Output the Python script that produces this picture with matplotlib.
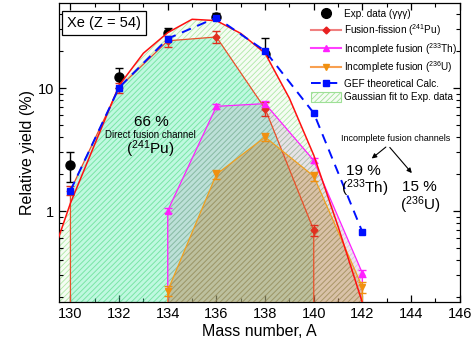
import matplotlib
matplotlib.use("Agg")
import matplotlib.pyplot as plt
from matplotlib.lines import Line2D
from matplotlib.patches import Patch
from matplotlib.ticker import MultipleLocator, LogLocator, NullFormatter, FixedLocator, FixedFormatter

plt.rcParams['font.family'] = ['Liberation Sans', 'DejaVu Sans']
plt.rcParams['mathtext.default'] = 'regular'
plt.rcParams['hatch.linewidth'] = 0.6

# experimental yields (gamma-gamma-gamma)
exp_mass = [130, 132, 134, 136, 138, 140]
exp_y = [2.38, 12.3, 28.0, 37.5, 18.9, 1.37]
exp_err = [0.67, 2.3, 3.0, 3.5, 6.5, 0.67]

# fusion-fission (241Pu)
ff_mass = [130, 132, 134, 136, 138, 140]
ff_y = [1.47, 10.1, 24.2, 26.0, 6.8, 0.70]
ff_err = [0.12, 0.9, 2.5, 2.9, 0.9, 0.07]

# incomplete fusion (233Th)
th_mass = [134, 136, 138, 140, 142]
th_y = [1.01, 7.1, 7.47, 2.58, 0.313]
th_err = [0.05, 0.35, 0.45, 0.12, 0.02]

# incomplete fusion (236U)
u_mass = [134, 136, 138, 140, 142]
u_y = [0.226, 1.99, 4.0, 1.92, 0.241]
u_err = [0.02, 0.15, 0.3, 0.15, 0.025]

# GEF calculation
gef_mass = [130, 132, 134, 136, 138, 140, 142]
gef_y = [1.47, 10.1, 25.2, 37.4, 20.0, 6.26, 0.675]

# gaussian fit to exp data
gauss_mass = [129, 130, 131, 132, 133, 134, 135, 136, 137, 138, 139, 140, 141, 142]
gauss_y = [0.31, 1.16, 3.5, 10.5, 19.2, 28.2, 36.2, 35.3, 27.8, 19.2, 8.25, 2.85, 0.75, 0.18]

floor = 0.01


def closed(xs, ys):
    return [xs[0]] + list(xs) + [xs[-1]], [floor] + list(ys) + [floor]


fig = plt.figure(figsize=(4.72, 3.45), dpi=100)
ax = fig.add_axes([0.125, 0.125, 0.849, 0.866])
ax.set_yscale('log')

# filled areas
ax.fill_between(gauss_mass, gauss_y, floor, facecolor='#f5fcf3', edgecolor='#aee8a6',
                hatch='//////', linewidth=0, zorder=1)
fx, fy = closed(ff_mass, ff_y)
ax.fill(fx, fy, facecolor=(0.3, 0.95, 0.72, 0.32), edgecolor=(0.3, 0.85, 0.6, 0.35),
        hatch='//////', linewidth=0, zorder=2)
tx, ty = closed(th_mass, th_y)
ax.fill(tx, ty, facecolor=(0.72, 0.55, 0.75, 0.22), edgecolor=(0.6, 0.5, 0.6, 0.3),
        hatch='//////', linewidth=0, zorder=3)
ux, uy = closed(u_mass, u_y)
ax.fill(ux, uy, facecolor=(0.75, 0.52, 0.2, 0.35), edgecolor=(0.65, 0.45, 0.25, 0.35),
        hatch='//////', linewidth=0, zorder=4)

# exp data (drawn under the fills)
ax.errorbar(exp_mass, exp_y, yerr=exp_err, fmt='o', color='black', ms=6.5,
            capsize=3, elinewidth=1, capthick=1, zorder=0.5)

# series lines
ax.plot(fx, fy, color='#e8502a', lw=0.9, zorder=5)
ax.errorbar(ff_mass, ff_y, yerr=ff_err, fmt='D', color='#e03020', ms=3.5,
            capsize=3, elinewidth=1, capthick=1, zorder=6)
ax.plot(tx, ty, color='#ff20ff', lw=0.9, zorder=5)
ax.errorbar(th_mass, th_y, yerr=th_err, fmt='^', color='#ff20ff', ms=4.5,
            capsize=3, elinewidth=1, capthick=1, zorder=6)
ax.plot(ux, uy, color='#f0a020', lw=0.9, zorder=5)
ax.errorbar(u_mass, u_y, yerr=u_err, fmt='v', color='#f09010', ms=4.5,
            capsize=3, elinewidth=1, capthick=1, zorder=6)
ax.plot(gauss_mass, gauss_y, color='#ff1010', lw=1.1, zorder=7)
ax.plot(gef_mass, gef_y, color='#0010ff', lw=1.4, ls=(0, (5, 3.5)), marker='s',
        ms=5, zorder=8)

ax.set_xlim(129.53, 146)
ax.set_ylim(0.183, 49)
ax.xaxis.set_major_locator(MultipleLocator(2))
ax.xaxis.set_minor_locator(MultipleLocator(1))
ax.yaxis.set_major_locator(FixedLocator([1, 10]))
ax.yaxis.set_major_formatter(FixedFormatter(['1', '10']))
ax.yaxis.set_minor_locator(LogLocator(base=10, subs=[2, 3, 4, 5, 6, 7, 8, 9]))
ax.yaxis.set_minor_formatter(NullFormatter())
ax.tick_params(which='both', direction='in', top=True, right=True, labelsize=10.5)
ax.tick_params(which='major', length=5, width=0.9)
ax.tick_params(which='minor', length=3, width=0.8)
for s in ax.spines.values():
    s.set_linewidth(0.9)

ax.set_xlabel('Mass number, A', fontsize=11.5, labelpad=2)
ax.set_ylabel('Relative yield (%)', fontsize=11.5, labelpad=2)

# annotations
ax.text(0.112, 0.933, 'Xe (Z = 54)', transform=ax.transAxes, fontsize=10.5,
        ha='center', va='center',
        bbox=dict(boxstyle='square,pad=0.35', facecolor='white', edgecolor='black', lw=0.9),
        zorder=10)
ax.text(0.231, 0.603, '66 %', transform=ax.transAxes, fontsize=11, ha='center', va='center', zorder=10)
ax.text(0.227, 0.558, 'Direct fusion channel', transform=ax.transAxes, fontsize=7,
        ha='center', va='center', zorder=10)
ax.text(0.227, 0.511, '($^{241}$Pu)', transform=ax.transAxes, fontsize=11,
        ha='center', va='center', zorder=10)
ax.text(0.840, 0.547, 'Incomplete fusion channels', transform=ax.transAxes, fontsize=6.5,
        ha='center', va='center', zorder=10)
ax.annotate('', xy=(0.775, 0.474), xytext=(0.821, 0.524), xycoords='axes fraction',
            arrowprops=dict(arrowstyle='-|>', color='black', lw=0.8, mutation_scale=7))
ax.annotate('', xy=(0.885, 0.424), xytext=(0.821, 0.524), xycoords='axes fraction',
            arrowprops=dict(arrowstyle='-|>', color='black', lw=0.8, mutation_scale=7))
ax.text(0.760, 0.439, '19 %', transform=ax.transAxes, fontsize=11, ha='center', va='center', zorder=10)
ax.text(0.764, 0.380, '($^{233}$Th)', transform=ax.transAxes, fontsize=11, ha='center', va='center', zorder=10)
ax.text(0.900, 0.385, '15 %', transform=ax.transAxes, fontsize=11, ha='center', va='center', zorder=10)
ax.text(0.901, 0.324, '($^{236}$U)', transform=ax.transAxes, fontsize=11, ha='center', va='center', zorder=10)

# legend
handles = [
    Line2D([], [], ls='none', marker='o', color='black', ms=7),
    Line2D([], [], color='#f08080', lw=1.5, marker='D', mfc='#e82020', mec='#e82020', ms=3.5),
    Line2D([], [], color='#ff40ff', lw=1.5, marker='^', mfc='#ff20ff', mec='#ff20ff', ms=4.5),
    Line2D([], [], color='#f8a050', lw=1.5, marker='v', mfc='#f09010', mec='#f09010', ms=4.5),
    Line2D([], [], color='#0010ff', lw=1.4, ls=(0, (5, 3.5)), marker='s', ms=5),
    Patch(facecolor='#f5fcf3', edgecolor='#9ee096', hatch='//////', lw=0.8),
]
labels = ['Exp. data (γγγ)', 'Fusion-fission ($^{241}$Pu)', 'Incomplete fusion ($^{233}$Th)',
          'Incomplete fusion ($^{236}$U)', 'GEF theoretical Calc.', 'Gaussian fit to Exp. data']
leg = ax.legend(handles, labels, loc='upper right', bbox_to_anchor=(1.008, 1.0), frameon=False,
                fontsize=7.2, handlelength=3.0, handleheight=1.15, labelspacing=0.3,
                handletextpad=0.3, borderaxespad=0.15)
leg.set_zorder(20)

fig.savefig('out.png', dpi=100)
